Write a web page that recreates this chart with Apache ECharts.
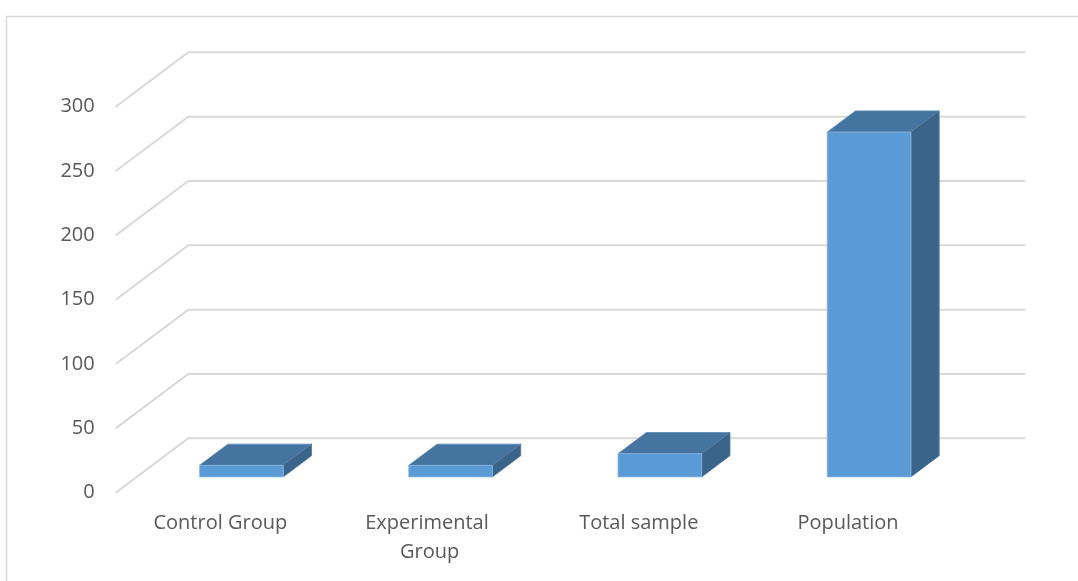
<!DOCTYPE html>
<html>
<head>
<meta charset="utf-8">
<script src="https://cdn.jsdelivr.net/npm/echarts@6/dist/echarts.min.js"></script>
<style>
  html, body { margin: 0; padding: 0; background: #fff; }
  #chart { width: 1078px; height: 581px; }
</style>
</head>
<body>
<div id="chart"></div>
<script>
// Sample sizes by group
const categories = ['Control Group', 'Experimental Group', 'Total sample', 'Population'];
const counts = [9, 9, 18, 268];
const yTicks = [0, 50, 100, 150, 200, 250, 300];

// Oblique projection of the depth axis (pixels from front plane to back wall)
const DEPTH_X = 72.6;
const DEPTH_Y = -54.4;
// Bars sit between these fractions of the depth
const BAR_FRONT = 0.29;
const BAR_BACK = 0.68;
const BAR_WIDTH_RATIO = 0.4;

const GRID_COLOR = '#d9d9d9';
const FONT = '"Open Sans", "Noto Sans", sans-serif';

const chart = echarts.init(document.getElementById('chart'), null, { renderer: 'canvas' });

function renderGridLine(params, api) {
  const cs = params.coordSys;
  const v = api.value(1);
  const p = api.coord([0, v]);
  const x0 = cs.x;
  const y0 = p[1];
  return {
    type: 'polyline',
    shape: {
      points: [
        [x0, y0],
        [x0 + DEPTH_X, y0 + DEPTH_Y],
        [x0 + cs.width + DEPTH_X, y0 + DEPTH_Y]
      ]
    },
    style: { stroke: GRID_COLOR, lineWidth: 2, fill: null },
    silent: true
  };
}

function renderBar(params, api) {
  const idx = api.value(0);
  const v = api.value(1);
  const base = api.coord([idx, 0]);
  const top = api.coord([idx, v]);
  const band = api.size([1, 0])[0];
  const w = band * BAR_WIDTH_RATIO;
  const fx = BAR_FRONT * DEPTH_X, fy = BAR_FRONT * DEPTH_Y;
  const bx = BAR_BACK * DEPTH_X, by = BAR_BACK * DEPTH_Y;
  const xl = base[0] - w / 2;
  const xr = base[0] + w / 2;
  const yb = base[1];
  const yt = top[1];

  return {
    type: 'group',
    children: [
      { // top face
        type: 'polygon',
        shape: { points: [[xl + fx, yt + fy], [xr + fx, yt + fy], [xr + bx, yt + by], [xl + bx, yt + by]] },
        style: { fill: '#44749f', stroke: '#5a88b3', lineWidth: 0.8 }
      },
      { // side face
        type: 'polygon',
        shape: { points: [[xr + fx, yt + fy], [xr + bx, yt + by], [xr + bx, yb + by], [xr + fx, yb + fy]] },
        style: { fill: '#3a6489', stroke: '#54789c', lineWidth: 0.8 }
      },
      { // front face
        type: 'rect',
        shape: { x: xl + fx, y: yt + fy, width: w, height: yb - yt },
        style: { fill: '#5b9bd5', stroke: '#8db8e2', lineWidth: 0.8 }
      }
    ]
  };
}

const option = {
  animation: false,
  backgroundColor: '#ffffff',
  grid: {
    left: 115.7,
    right: 125.4,
    top: 106.7,
    bottom: 88.3,
    containLabel: false
  },
  xAxis: {
    type: 'category',
    data: categories,
    axisLine: { show: false },
    axisTick: { show: false },
    splitLine: { show: false },
    axisLabel: {
      interval: 0,
      margin: 16,
      color: '#595959',
      fontFamily: FONT,
      fontSize: 20,
      lineHeight: 29,
      width: 160,
      overflow: 'break',
      align: 'center'
    }
  },
  yAxis: {
    type: 'value',
    min: 0,
    max: 300,
    interval: 50,
    axisLine: { show: false },
    axisTick: { show: false },
    splitLine: { show: false },
    axisLabel: {
      margin: 21,
      color: '#595959',
      fontFamily: FONT,
      fontSize: 20
    }
  },
  graphic: [{
    type: 'rect',
    silent: true,
    z: -10,
    shape: { x: 6.5, y: 16.5, width: 1200, height: 700 },
    style: { fill: null, stroke: '#d9d9d9', lineWidth: 1.5 }
  }],
  series: [
    {
      type: 'custom',
      clip: false,
      z: 1,
      renderItem: renderGridLine,
      data: yTicks.map(t => [0, t]),
      silent: true
    },
    {
      type: 'custom',
      clip: false,
      z: 2,
      renderItem: renderBar,
      data: counts.map((c, i) => [i, c])
    }
  ]
};

chart.setOption(option);
</script>
</body>
</html>
